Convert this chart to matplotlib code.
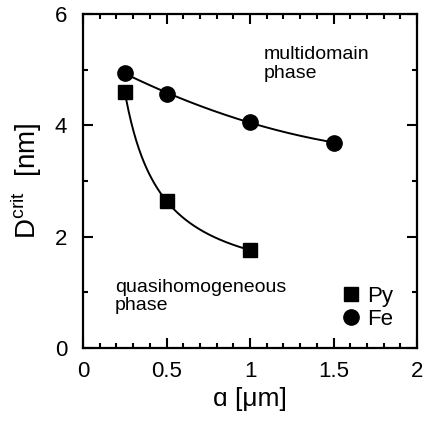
import numpy as np
import matplotlib
matplotlib.use("Agg")
import matplotlib.pyplot as plt
from matplotlib.ticker import MultipleLocator

plt.rcParams['font.family'] = ['Liberation Sans', 'DejaVu Sans']
plt.rcParams['mathtext.fontset'] = 'custom'
plt.rcParams['mathtext.rm'] = 'Liberation Sans'

# data
py_a = [0.25, 0.5, 1.0]
py_d = [4.60, 2.64, 1.76]
fe_a = [0.25, 0.5, 1.0, 1.5]
fe_d = [4.94, 4.57, 4.06, 3.69]

fig = plt.figure(figsize=(4.26, 4.22), dpi=100)
ax = fig.add_axes([0.195, 0.175, 0.784, 0.792])

# smooth fit curves
u = 1.0 / np.array(py_a)
cp = np.polyfit(u, py_d, 2)
aa = np.linspace(min(py_a), max(py_a), 200)
ax.plot(aa, np.polyval(cp, 1.0 / aa), color='black', lw=1.4, zorder=2)
cf = np.polyfit(fe_a, fe_d, 2)
af = np.linspace(min(fe_a), max(fe_a), 200)
ax.plot(af, np.polyval(cf, af), color='black', lw=1.4, zorder=2)

ax.plot(py_a, py_d, 's', color='black', ms=10, ls='none', label='Py', zorder=3)
ax.plot(fe_a, fe_d, 'o', color='black', ms=11, ls='none', label='Fe', zorder=3)

ax.set_xlim(0, 2)
ax.set_ylim(0, 6)
ax.xaxis.set_major_locator(MultipleLocator(0.5))
ax.xaxis.set_minor_locator(MultipleLocator(0.1))
ax.yaxis.set_major_locator(MultipleLocator(2))
ax.yaxis.set_minor_locator(MultipleLocator(1))
ax.set_xticks([0, 0.5, 1, 1.5, 2])
ax.set_xticklabels(['0', '0.5', '1', '1.5', '2'])
ax.tick_params(which='both', direction='in', top=True, right=True, width=1.5,
               labelsize=16)
ax.tick_params(axis='x', pad=9)
ax.tick_params(axis='y', pad=11.5)
ax.tick_params(which='major', length=7)
ax.tick_params(which='minor', length=3.6)
for s in ax.spines.values():
    s.set_linewidth(1.6)

ax.set_xlabel('ɑ [μm]', fontsize=19, labelpad=4)
ax.set_ylabel(r'D$^{\rm crit}$  [nm]', fontsize=20, labelpad=8)

ax.text(1.08, 5.42, 'multidomain\nphase', fontsize=14, va='top', ha='left', linespacing=1.1)
ax.text(0.19, 1.25, 'quasihomogeneous\nphase', fontsize=14, va='top', ha='left', linespacing=1.1)

leg = ax.legend(loc='lower right', frameon=False, fontsize=16, handlelength=0.6,
                handletextpad=0.4, labelspacing=0.1, borderaxespad=0.3,
                bbox_to_anchor=(0.974, 0.007))

fig.savefig('out.png', dpi=100)
